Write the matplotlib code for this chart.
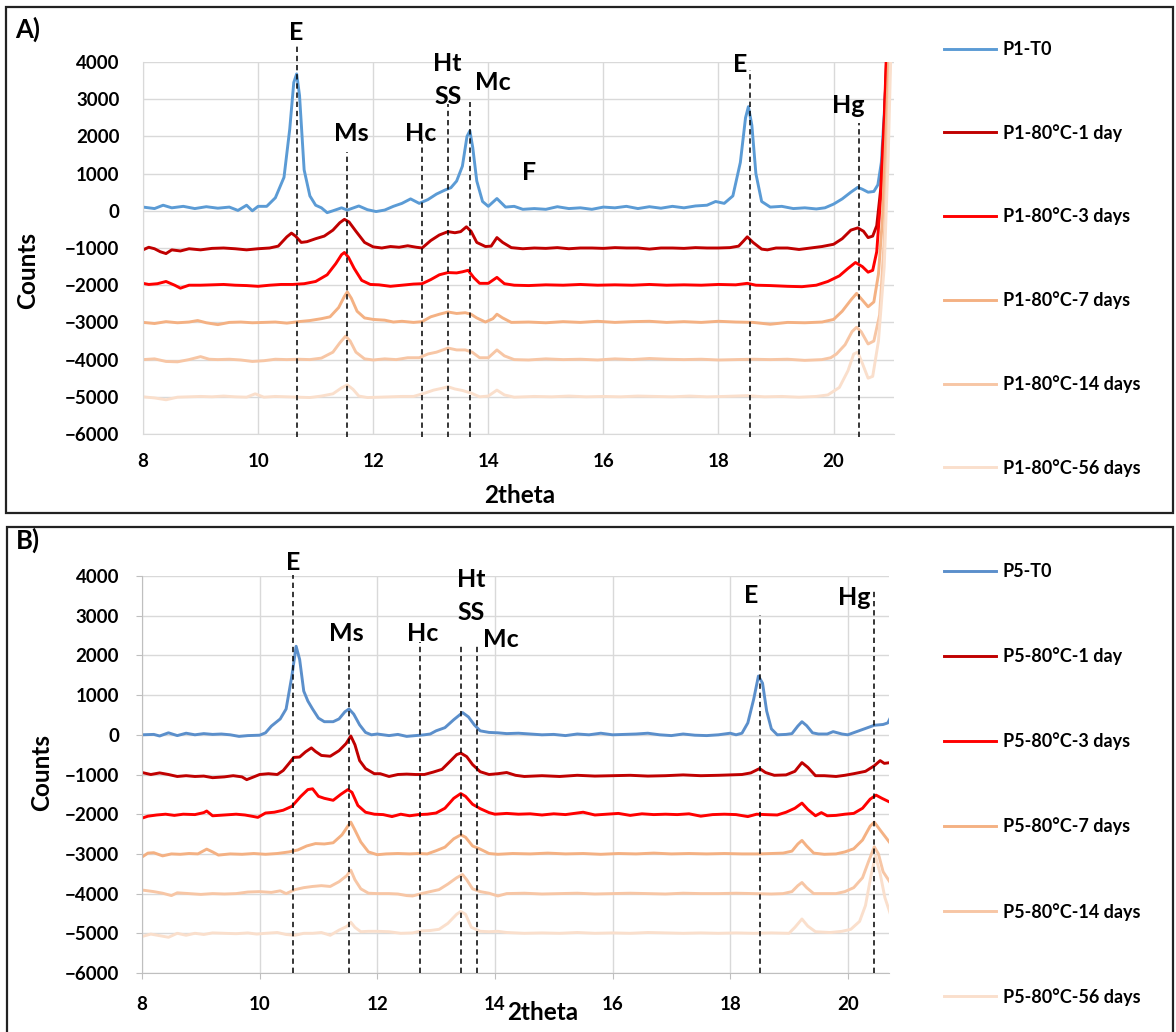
import matplotlib
matplotlib.use("Agg")
import matplotlib.pyplot as plt
from matplotlib.patches import Rectangle

plt.rcParams['font.family'] = ['Lato', 'DejaVu Sans']
plt.rcParams['font.weight'] = 'bold'

# ---- panel A data (2theta, counts) ----
p1_t0 = [(8.0, 100), (8.2, 60), (8.35, 150), (8.5, 80), (8.7, 120), (8.9, 60), (9.1, 110), (9.3, 70),
         (9.5, 100), (9.65, 10), (9.8, 150), (9.9, 0), (10.0, 120), (10.15, 120), (10.3, 350), (10.45, 900),
         (10.55, 2200), (10.62, 3450), (10.67, 3680), (10.72, 3100), (10.8, 1100), (10.9, 400), (11.0, 150),
         (11.1, 80), (11.2, -50), (11.3, 0), (11.45, 80), (11.55, 20), (11.75, 130), (11.9, 30), (12.05, -20),
         (12.2, 20), (12.35, 120), (12.5, 200), (12.65, 320), (12.8, 200), (12.95, 300), (13.1, 450),
         (13.25, 560), (13.35, 620), (13.45, 800), (13.55, 1200), (13.63, 2000), (13.68, 2150), (13.73, 1700),
         (13.8, 800), (13.9, 250), (14.0, 120), (14.15, 330), (14.3, 100), (14.45, 120), (14.6, 40), (14.8, 60),
         (15.0, 40), (15.2, 110), (15.4, 60), (15.6, 80), (15.8, 40), (16.0, 100), (16.2, 80), (16.4, 120),
         (16.6, 60), (16.8, 110), (17.0, 70), (17.2, 120), (17.4, 80), (17.6, 130), (17.8, 150), (17.95, 250),
         (18.1, 200), (18.25, 400), (18.38, 1300), (18.47, 2500), (18.52, 2800), (18.58, 2300), (18.65, 1000),
         (18.75, 250), (18.9, 100), (19.1, 120), (19.3, 60), (19.5, 80), (19.7, 50), (19.85, 80), (20.0, 180),
         (20.15, 320), (20.3, 500), (20.42, 630), (20.5, 580), (20.6, 500), (20.7, 520), (20.77, 700),
         (20.83, 1300), (20.88, 2600), (20.93, 4000), (20.98, 5500)]
p1_1d = [(8.0, -1050), (8.1, -980), (8.2, -1020), (8.3, -1100), (8.4, -1150), (8.5, -1050), (8.65, -1080),
         (8.8, -1020), (9.0, -1050), (9.2, -1010), (9.4, -1000), (9.6, -1020), (9.8, -1050), (10.0, -1020),
         (10.2, -1000), (10.35, -950), (10.5, -700), (10.58, -600), (10.65, -680), (10.75, -850), (10.85, -830),
         (11.0, -750), (11.15, -680), (11.3, -520), (11.42, -320), (11.5, -230), (11.58, -300), (11.7, -550),
         (11.85, -850), (12.0, -970), (12.15, -1000), (12.3, -960), (12.45, -980), (12.6, -940), (12.75, -980),
         (12.85, -1000), (13.0, -800), (13.15, -650), (13.3, -560), (13.42, -590), (13.52, -560), (13.62, -430),
         (13.7, -550), (13.8, -850), (13.95, -960), (14.05, -950), (14.15, -720), (14.25, -850), (14.4, -990),
         (14.6, -1020), (14.8, -1000), (15.0, -1010), (15.2, -990), (15.4, -1020), (15.6, -1000), (15.8, -1000),
         (16.0, -1010), (16.2, -990), (16.4, -1000), (16.6, -1000), (16.8, -1030), (17.0, -1000), (17.2, -1000),
         (17.4, -1010), (17.6, -990), (17.8, -1000), (18.0, -1000), (18.2, -990), (18.35, -950), (18.43, -820),
         (18.5, -700), (18.6, -850), (18.75, -1030), (18.85, -1050), (19.0, -1000), (19.2, -1000), (19.4, -1040),
         (19.6, -1000), (19.8, -960), (20.0, -900), (20.15, -750), (20.3, -520), (20.42, -460), (20.52, -550),
         (20.6, -720), (20.68, -680), (20.75, -400), (20.82, 600), (20.88, 2400), (20.94, 4800)]
p1_3d = [(8.0, -1950), (8.1, -1980), (8.25, -1960), (8.4, -1900), (8.55, -2000), (8.65, -2080), (8.8, -2000),
         (9.0, -2000), (9.2, -1990), (9.4, -1980), (9.6, -2000), (9.8, -2010), (10.0, -2030), (10.2, -2000),
         (10.4, -1980), (10.6, -1980), (10.8, -1960), (11.0, -1900), (11.2, -1720), (11.35, -1420),
         (11.45, -1180), (11.5, -1120), (11.57, -1250), (11.67, -1550), (11.8, -1870), (11.95, -1980),
         (12.1, -1990), (12.3, -2030), (12.5, -2000), (12.7, -1970), (12.85, -1960), (13.0, -1850),
         (13.15, -1720), (13.3, -1660), (13.45, -1670), (13.55, -1640), (13.65, -1600), (13.75, -1800),
         (13.85, -1950), (14.0, -1950), (14.15, -1790), (14.28, -1960), (14.45, -2000), (14.7, -2010),
         (15.0, -1990), (15.3, -2000), (15.6, -1980), (15.9, -2000), (16.2, -1990), (16.5, -2000), (16.8, -1980),
         (17.1, -2000), (17.4, -1990), (17.7, -2000), (18.0, -1980), (18.3, -1990), (18.5, -1950), (18.65, -2000),
         (18.9, -2010), (19.2, -2030), (19.45, -2040), (19.7, -2000), (19.9, -1900), (20.1, -1750), (20.25, -1550),
         (20.38, -1390), (20.5, -1500), (20.6, -1650), (20.68, -1600), (20.75, -1100), (20.82, 400), (20.88, 2400),
         (20.93, 4800)]
p1_7d = [(8.0, -3000), (8.2, -3030), (8.4, -2980), (8.6, -3010), (8.8, -2990), (8.95, -2950), (9.1, -3010),
         (9.3, -3060), (9.5, -3000), (9.7, -2990), (9.9, -3010), (10.1, -3000), (10.3, -2990), (10.5, -3020),
         (10.7, -2980), (10.9, -2950), (11.1, -2900), (11.25, -2850), (11.4, -2600), (11.5, -2300), (11.55, -2180),
         (11.62, -2350), (11.72, -2700), (11.85, -2880), (12.0, -2920), (12.2, -2940), (12.35, -2990),
         (12.5, -2970), (12.7, -3000), (12.85, -2980), (13.0, -2850), (13.15, -2780), (13.3, -2720), (13.45, -2760),
         (13.6, -2740), (13.7, -2780), (13.8, -2880), (13.95, -2990), (14.08, -2900), (14.15, -2780),
         (14.25, -2880), (14.4, -3000), (14.7, -2990), (15.0, -3010), (15.3, -2980), (15.6, -3000), (15.9, -2970),
         (16.2, -3000), (16.5, -2980), (16.8, -2970), (17.1, -3000), (17.4, -2980), (17.7, -3000), (18.0, -2970),
         (18.3, -2990), (18.6, -3000), (18.9, -3050), (19.2, -3000), (19.5, -3010), (19.8, -2990), (20.0, -2920),
         (20.15, -2700), (20.3, -2400), (20.4, -2220), (20.5, -2400), (20.6, -2580), (20.7, -2450), (20.78, -1700),
         (20.85, -200), (20.92, 2500), (20.98, 5000)]
p1_14d = [(8.0, -4000), (8.2, -3980), (8.4, -4050), (8.6, -4060), (8.8, -4000), (9.0, -3920), (9.15, -3990),
          (9.3, -4000), (9.5, -3990), (9.7, -4010), (9.9, -4050), (10.1, -4030), (10.3, -3990), (10.5, -4000),
          (10.7, -3990), (10.9, -4000), (11.1, -3960), (11.3, -3800), (11.42, -3550), (11.52, -3370),
          (11.6, -3500), (11.7, -3800), (11.85, -3980), (12.0, -4010), (12.2, -3980), (12.4, -4000),
          (12.6, -3950), (12.8, -3950), (12.95, -3850), (13.1, -3800), (13.3, -3690), (13.45, -3740),
          (13.6, -3740), (13.72, -3800), (13.85, -3950), (14.0, -3950), (14.15, -3740), (14.28, -3900),
          (14.45, -4000), (14.7, -4010), (15.0, -3980), (15.3, -4000), (15.6, -3990), (15.9, -4010), (16.2, -3980),
          (16.5, -4000), (16.8, -3970), (17.1, -3990), (17.4, -4000), (17.7, -3990), (18.0, -4010), (18.3, -4000),
          (18.6, -3990), (18.9, -4000), (19.2, -3990), (19.5, -4020), (19.8, -4000), (19.95, -3950),
          (20.05, -3850), (20.2, -3600), (20.32, -3250), (20.4, -3130), (20.48, -3250), (20.6, -3580),
          (20.7, -3500), (20.8, -2800), (20.88, -800), (20.95, 2500), (21.0, 5000)]
p1_56d = [(8.0, -5000), (8.2, -5030), (8.4, -5080), (8.6, -5010), (8.8, -5000), (9.0, -4990), (9.2, -5000),
          (9.4, -4980), (9.6, -5000), (9.8, -5010), (9.95, -4920), (10.1, -5010), (10.3, -4990), (10.5, -5000),
          (10.7, -5010), (10.9, -5020), (11.1, -4980), (11.3, -4920), (11.45, -4760), (11.55, -4680),
          (11.65, -4800), (11.75, -4980), (11.9, -5020), (12.1, -5010), (12.3, -5000), (12.5, -4990),
          (12.7, -4990), (12.9, -4900), (13.05, -4820), (13.2, -4770), (13.3, -4730), (13.42, -4790),
          (13.55, -4830), (13.7, -4900), (13.85, -5000), (14.0, -4980), (14.15, -4820), (14.28, -4950),
          (14.45, -5010), (14.8, -4990), (15.1, -5000), (15.4, -4980), (15.7, -5000), (16.0, -4990), (16.3, -5000),
          (16.6, -4980), (16.9, -4990), (17.2, -5000), (17.5, -4980), (17.8, -5000), (18.1, -4990), (18.5, -4970),
          (18.8, -5000), (19.1, -4990), (19.4, -5010), (19.7, -4990), (19.9, -4950), (20.1, -4750), (20.25, -4300),
          (20.35, -3850), (20.42, -3800), (20.5, -4100), (20.6, -4500), (20.68, -4450), (20.78, -3500),
          (20.88, -1500), (20.95, 1500), (21.0, 4500)]

# ---- panel B data ----
p5_t0 = [(8.0, 0), (8.2, 10), (8.3, -30), (8.45, 50), (8.6, -20), (8.75, 40), (8.9, 0), (9.05, 30), (9.2, 10),
         (9.35, 20), (9.5, 0), (9.65, -40), (9.8, -20), (10.0, -10), (10.1, 50), (10.2, 220), (10.35, 400),
         (10.45, 650), (10.55, 1500), (10.62, 2230), (10.68, 1900), (10.75, 1100), (10.82, 850), (10.9, 650),
         (11.0, 420), (11.1, 330), (11.25, 330), (11.35, 400), (11.45, 580), (11.52, 650), (11.6, 520),
         (11.7, 250), (11.8, 60), (11.9, 0), (12.0, 20), (12.1, 0), (12.2, -20), (12.35, 10), (12.5, -40),
         (12.65, -20), (12.8, 0), (12.9, 20), (13.0, 100), (13.15, 180), (13.3, 380), (13.45, 560), (13.55, 450),
         (13.65, 250), (13.75, 100), (13.9, 60), (14.05, 50), (14.2, 30), (14.4, 40), (14.6, 20), (14.8, 0),
         (15.0, 10), (15.2, -20), (15.4, 20), (15.6, 0), (15.8, 40), (16.0, 0), (16.2, 10), (16.4, 20),
         (16.6, 40), (16.8, 0), (17.0, -20), (17.2, 20), (17.4, -10), (17.6, -20), (17.8, 0), (18.0, 40),
         (18.1, 0), (18.2, 40), (18.3, 300), (18.4, 900), (18.48, 1480), (18.55, 1300), (18.62, 600), (18.7, 150),
         (18.8, 0), (18.95, 10), (19.05, 30), (19.15, 220), (19.22, 330), (19.3, 230), (19.4, 50), (19.5, 20),
         (19.65, 20), (19.75, 80), (19.9, 20), (20.0, 0), (20.15, 80), (20.3, 160), (20.45, 240), (20.6, 260),
         (20.68, 300), (20.72, 420)]
p5_1d = [(8.0, -950), (8.15, -1000), (8.3, -960), (8.45, -1000), (8.6, -1050), (8.75, -1030), (8.9, -1050),
         (9.05, -1040), (9.2, -1080), (9.4, -1060), (9.55, -1030), (9.7, -1060), (9.78, -1130), (9.9, -1060),
         (10.0, -1000), (10.15, -980), (10.3, -1000), (10.4, -900), (10.5, -720), (10.58, -570), (10.68, -560),
         (10.78, -430), (10.88, -330), (10.95, -420), (11.05, -520), (11.2, -540), (11.35, -400), (11.47, -220),
         (11.55, -30), (11.62, -250), (11.7, -650), (11.8, -850), (11.95, -980), (12.05, -980), (12.2, -1050),
         (12.35, -1000), (12.5, -990), (12.65, -1000), (12.8, -1000), (12.95, -940), (13.1, -870), (13.25, -650),
         (13.35, -500), (13.42, -460), (13.52, -550), (13.62, -750), (13.75, -930), (13.9, -1000), (14.05, -980),
         (14.2, -950), (14.35, -1020), (14.5, -1050), (14.8, -1030), (15.1, -1050), (15.4, -1020), (15.7, -1040),
         (16.0, -1030), (16.3, -1020), (16.6, -1040), (16.9, -1030), (17.2, -1010), (17.5, -1030), (17.8, -1020),
         (18.0, -1010), (18.2, -1000), (18.35, -960), (18.5, -850), (18.6, -950), (18.75, -1020), (18.95, -1010),
         (19.1, -920), (19.22, -700), (19.32, -820), (19.45, -1030), (19.6, -1030), (19.8, -1050), (19.95, -1020),
         (20.1, -980), (20.3, -920), (20.45, -780), (20.55, -650), (20.62, -720), (20.72, -700)]
p5_3d = [(8.0, -2100), (8.1, -2050), (8.25, -2020), (8.4, -2000), (8.55, -2030), (8.7, -2000), (8.9, -2010),
         (9.05, -1960), (9.1, -1920), (9.2, -2040), (9.4, -2020), (9.6, -2000), (9.75, -2020), (9.9, -2060),
         (9.97, -2080), (10.1, -1970), (10.25, -1950), (10.4, -1900), (10.55, -1800), (10.7, -1550),
         (10.82, -1380), (10.9, -1360), (11.0, -1550), (11.1, -1600), (11.25, -1650), (11.38, -1500),
         (11.5, -1380), (11.57, -1450), (11.67, -1780), (11.8, -1950), (11.95, -2000), (12.1, -2010),
         (12.25, -2060), (12.4, -2000), (12.55, -2040), (12.7, -2010), (12.85, -2000), (13.0, -1970),
         (13.15, -1850), (13.3, -1600), (13.42, -1480), (13.5, -1550), (13.62, -1750), (13.75, -1860),
         (13.9, -1960), (14.0, -2000), (14.2, -1980), (14.4, -2000), (14.6, -1990), (14.8, -2020), (15.0, -1990),
         (15.2, -2010), (15.5, -1950), (15.7, -2020), (15.9, -2000), (16.1, -1980), (16.3, -2030), (16.5, -1990),
         (16.7, -2010), (16.9, -2000), (17.1, -2010), (17.3, -1990), (17.5, -2050), (17.7, -2010), (17.9, -2000),
         (18.1, -2010), (18.3, -2060), (18.45, -2000), (18.6, -2010), (18.8, -2020), (18.95, -1950), (19.1, -1850),
         (19.22, -1720), (19.32, -1880), (19.45, -2040), (19.55, -1960), (19.65, -2040), (19.8, -2030),
         (19.95, -2000), (20.1, -1980), (20.25, -1850), (20.38, -1620), (20.48, -1520), (20.58, -1600),
         (20.72, -1700)]
p5_7d = [(8.0, -3080), (8.1, -2980), (8.2, -2970), (8.35, -3050), (8.5, -3000), (8.65, -3010), (8.8, -2990),
         (8.95, -3000), (9.1, -2880), (9.2, -2950), (9.3, -3030), (9.5, -3000), (9.7, -3010), (9.9, -2990),
         (10.1, -3010), (10.3, -2990), (10.5, -2950), (10.65, -2900), (10.8, -2800), (10.95, -2740), (11.1, -2750),
         (11.25, -2720), (11.4, -2520), (11.5, -2300), (11.55, -2200), (11.62, -2400), (11.72, -2700),
         (11.85, -2950), (12.0, -3020), (12.15, -3000), (12.35, -2990), (12.55, -3000), (12.7, -2990),
         (12.85, -3000), (13.0, -2920), (13.15, -2830), (13.3, -2620), (13.42, -2520), (13.5, -2580),
         (13.62, -2800), (13.75, -2880), (13.9, -2990), (14.05, -3010), (14.3, -2990), (14.6, -3000),
         (14.9, -2980), (15.2, -3000), (15.5, -2990), (15.8, -3010), (16.1, -2990), (16.4, -3000), (16.7, -2980),
         (17.0, -3000), (17.3, -2990), (17.6, -3000), (17.9, -2990), (18.2, -3000), (18.5, -3000), (18.7, -2990),
         (18.9, -2980), (19.05, -2930), (19.15, -2750), (19.22, -2660), (19.3, -2800), (19.42, -2980),
         (19.6, -3010), (19.8, -3000), (19.95, -2950), (20.1, -2870), (20.25, -2650), (20.38, -2300),
         (20.45, -2200), (20.55, -2400), (20.72, -2730)]
p5_14d = [(8.0, -3910), (8.1, -3930), (8.2, -3950), (8.35, -3990), (8.5, -4050), (8.6, -3980), (8.8, -4000),
          (9.0, -4020), (9.2, -4000), (9.4, -4010), (9.6, -4000), (9.8, -3960), (10.0, -3950), (10.2, -3970),
          (10.35, -3930), (10.45, -4000), (10.6, -3900), (10.75, -3850), (10.9, -3820), (11.05, -3800),
          (11.2, -3820), (11.35, -3700), (11.48, -3550), (11.55, -3410), (11.62, -3650), (11.72, -3880),
          (11.85, -3990), (12.0, -4000), (12.2, -4000), (12.35, -4010), (12.5, -4050), (12.6, -4060),
          (12.75, -4000), (12.9, -3950), (13.05, -3900), (13.2, -3760), (13.35, -3600), (13.45, -3520),
          (13.52, -3650), (13.62, -3880), (13.75, -3950), (13.9, -3990), (14.05, -4060), (14.2, -4000),
          (14.5, -3990), (14.8, -4010), (15.1, -4000), (15.4, -3990), (15.7, -4010), (16.0, -4000), (16.3, -3990),
          (16.6, -4000), (16.9, -4010), (17.2, -3990), (17.5, -4000), (17.8, -4000), (18.1, -3990), (18.4, -4000),
          (18.7, -4010), (18.9, -4000), (19.05, -3950), (19.15, -3800), (19.22, -3720), (19.3, -3850),
          (19.42, -4000), (19.6, -4000), (19.8, -4000), (19.95, -3950), (20.1, -3850), (20.25, -3600),
          (20.35, -3200), (20.45, -2820), (20.52, -3000), (20.6, -3450), (20.72, -3720)]
p5_56d = [(8.0, -5080), (8.15, -5020), (8.3, -5060), (8.45, -5100), (8.6, -5000), (8.75, -5050), (8.9, -5000),
          (9.05, -5030), (9.2, -4990), (9.4, -5000), (9.6, -5010), (9.8, -4990), (9.95, -5020), (10.1, -5000),
          (10.3, -4980), (10.45, -5030), (10.6, -5050), (10.75, -5000), (10.9, -5000), (11.05, -4980),
          (11.2, -5050), (11.35, -4920), (11.48, -4830), (11.55, -4720), (11.62, -4850), (11.72, -4960),
          (11.85, -4950), (12.0, -4950), (12.2, -4960), (12.4, -5000), (12.6, -4990), (12.75, -4940),
          (12.9, -4930), (13.05, -4900), (13.2, -4750), (13.35, -4520), (13.42, -4450), (13.5, -4520),
          (13.6, -4850), (13.75, -4950), (13.9, -4960), (14.05, -4950), (14.2, -4980), (14.5, -5000),
          (14.8, -4990), (15.1, -5000), (15.4, -4980), (15.7, -5000), (16.0, -4990), (16.3, -5000), (16.6, -4980),
          (16.9, -4990), (17.2, -5000), (17.5, -4990), (17.8, -5000), (18.1, -4990), (18.4, -5000), (18.7, -4990),
          (19.0, -5000), (19.1, -4850), (19.22, -4640), (19.32, -4820), (19.45, -4960), (19.7, -4980),
          (19.9, -4950), (20.05, -4900), (20.2, -4700), (20.3, -4300), (20.4, -3500), (20.47, -3050),
          (20.55, -3500), (20.63, -4100), (20.72, -4500)]

labels_a = ['P1-T0', 'P1-80°C-1 day', 'P1-80°C-3 days', 'P1-80°C-7 days', 'P1-80°C-14 days', 'P1-80°C-56 days']
labels_b = ['P5-T0', 'P5-80°C-1 day', 'P5-80°C-3 days', 'P5-80°C-7 days', 'P5-80°C-14 days', 'P5-80°C-56 days']
colors_a = ['#5B9BD5', '#C00000', '#FF0000', '#F4B183', '#F7C6A5', '#FADFCC']
colors_b = ['#5B8FCB', '#C00000', '#FF0000', '#F4B183', '#F7C6A5', '#FADFCC']

# phase markers: position, top of dashed line
marks_a_x = [10.67, 11.55, 12.85, 13.3, 13.68, 18.54, 20.45]
marks_a_top = [4450, 1580, 1900, 2870, 2930, 3780, 2360]
marks_b_x = [10.57, 11.52, 12.72, 13.42, 13.7, 18.5, 20.45]
marks_b_top = [4020, 2310, 2340, 2260, 2260, 3020, 3650]
# phase labels: text, x, y
names_a = [('E', 10.67, 4800), ('Ms', 11.62, 2090), ('Hc', 12.83, 2090), ('Ht', 13.29, 3970), ('SS', 13.31, 3060),
           ('Mc', 14.08, 3460), ('F', 14.7, 1020), ('E', 18.38, 3920), ('Hg', 20.26, 2840)]
names_b = [('E', 10.57, 4350), ('Ms', 11.47, 2560), ('Hc', 12.78, 2560), ('Ht', 13.6, 3900), ('SS', 13.6, 3070),
           ('Mc', 14.1, 2410), ('E', 18.36, 3520), ('Hg', 20.11, 3450)]

yticks = list(range(-6000, 4001, 1000))
xticks = [8, 10, 12, 14, 16, 18, 20]

W, H = 1176, 1032
fig = plt.figure(figsize=(W / 100, H / 100), dpi=100)


def fx(px):
    return px / W


def fy(py):
    return 1 - py / H


# panel frames
fig.patches.append(Rectangle((fx(6), fy(513)), fx(1167), 506 / H, transform=fig.transFigure,
                             fill=False, edgecolor='#222222', linewidth=1.6))
fig.patches.append(Rectangle((fx(7), fy(1040)), fx(1166), 513 / H, transform=fig.transFigure,
                             fill=False, edgecolor='#222222', linewidth=1.6))

ax_a = fig.add_axes([fx(143), fy(434), fx(894 - 143), 372 / H])
ax_b = fig.add_axes([fx(142), fy(973), fx(889 - 142), 397 / H])

panels = [
    (ax_a, [p1_t0, p1_1d, p1_3d, p1_7d, p1_14d, p1_56d], labels_a, colors_a, marks_a_x, marks_a_top, -6080,
     names_a, 21.05, 'A)', fy(29), (0.501, -0.165), (-0.153, 0.44), fy(41), 3.65),
    (ax_b, [p5_t0, p5_1d, p5_3d, p5_7d, p5_14d, p5_56d], labels_b, colors_b, marks_b_x, marks_b_top, -6000,
     names_b, 20.7, 'B)', fy(540), (0.537, -0.1), (-0.135, 0.506), fy(563), 3.73),
]

for i, (ax, series, labels, colors, mx, mtop, mbot, names, xmax, tag, tag_y, xl, yl, leg_y, lsp) in enumerate(panels):
    for pts, lab, col in zip(series, labels, colors):
        xs, ys = zip(*pts)
        ax.plot(xs, ys, color=col, lw=2.1, label=lab, solid_joinstyle='round')
    ax.vlines(mx, mbot, mtop, colors='black', linestyles=(0, (3.5, 2.5)), lw=1.1, clip_on=False, zorder=5)
    for txt, x, y in names:
        ax.text(x, y, txt, fontsize=18, fontweight='bold', ha='center', va='center', clip_on=False)

    ax.set_xlim(8, xmax)
    ax.set_ylim(-6000, 4000)
    ax.set_xticks(xticks)
    ax.set_yticks(yticks)
    ax.grid(True, color='#D9D9D9', lw=1)
    ax.set_axisbelow(True)
    for s in ['top', 'right']:
        ax.spines[s].set_visible(False)
    if i == 0:
        for s in ['left', 'bottom']:
            ax.spines[s].set_color('#D9D9D9')
        ax.tick_params(axis='both', length=0, labelsize=13.5)
        ax.tick_params(axis='y', pad=17)
        ax.tick_params(axis='x', pad=14)
    else:
        for s in ['left', 'bottom']:
            ax.spines[s].set_color('#BFBFBF')
        ax.tick_params(axis='both', length=4.5, color='#BFBFBF', labelsize=13.5)
        ax.tick_params(axis='y', pad=12)
        ax.tick_params(axis='x', pad=12)
    for t in ax.get_xticklabels() + ax.get_yticklabels():
        t.set_fontweight('bold')

    ax.set_xlabel('2theta', fontsize=17.5, fontweight='bold')
    ax.xaxis.set_label_coords(*xl)
    ax.xaxis.label.set_va('center')
    ax.set_ylabel('Counts', fontsize=17.5, fontweight='bold')
    ax.yaxis.set_label_coords(*yl)
    ax.yaxis.label.set(va='center', ha='center')

    fig.text(fx(28), tag_y, tag, fontsize=18.5, fontweight='bold', ha='center', va='center')

    ax.legend(loc='upper left', bbox_to_anchor=(fx(944), leg_y), bbox_transform=fig.transFigure,
              frameon=False, prop={'weight': 'bold', 'size': 13}, handlelength=2.9,
              handletextpad=0.35, labelspacing=lsp, borderpad=0, borderaxespad=0)

fig.savefig('out.png', dpi=100)
